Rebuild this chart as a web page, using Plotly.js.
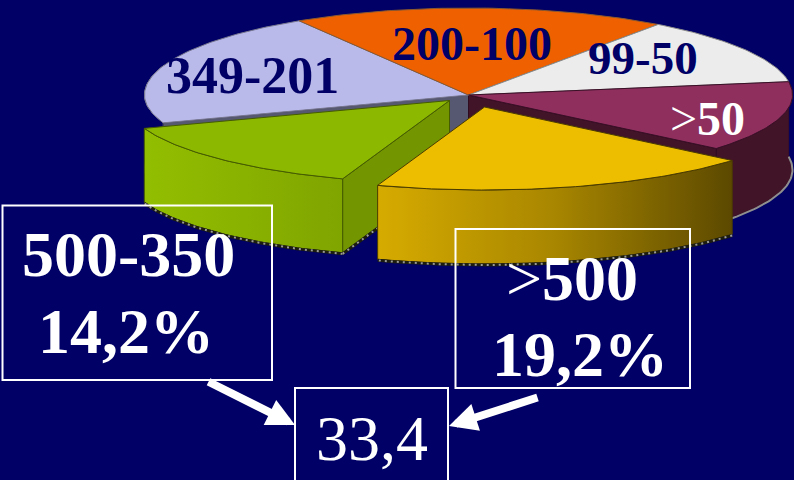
<!DOCTYPE html>
<html>
<head>
<meta charset="utf-8">
<script src="https://cdn.plot.ly/plotly-3.0.1.min.js"></script>
<style>html,body{margin:0;padding:0;background:#000066;overflow:hidden}#chart{width:794px;height:480px}</style>
</head>
<body>
<div id="chart"></div>
<script>
// Share of each class, in percent, clockwise from the back of the pie
const categories = ['200-100', '99-50', '>50', '>500', '500-350', '349-201'];
const shares = [18.7, 12.6, 13.6, 19.2, 14.2, 21.7];

// Tilted pie geometry, in plot units; the near half is a little flatter than the far half
const CX = 468.5, CY = 95, RX = 324, RY_BACK = 87, RY_FRONT = 83, DEPTH = 74, START_DEG = -31.5;
const pulledOut = {'>500': [16, 12], '500-350': [-19, 5.5]};

const NAVY = '#000066', WHITE = '#ffffff';
const topColors = {'200-100': '#ef6100', '99-50': '#ececec', '>50': '#8e2f5e', '>500': '#edbd00', '500-350': '#8cb900', '349-201': '#b9b9ea'};
const rimColors = {'>50': '#421428', '>500': '#6b5500', '500-350': '#5a7a00', '349-201': '#b4b4d6'};
const edgeColors = {'200-100': '#8a5a30', '99-50': '#8a8a8a', '>50': '#3a1026', '>500': '#4a3c00', '500-350': '#465c00', '349-201': '#77778f'};

// Angle span of each slice, derived from its share
const total = shares.reduce((a, b) => a + b, 0);
const spans = {};
let running = START_DEG;
categories.forEach((c, i) => {
  const sweep = shares[i] / total * 360;
  spans[c] = [running, running + sweep];
  running += sweep;
});

function rimPoint(deg, off, drop) {
  const a = deg * Math.PI / 180;
  const c = Math.cos(a);
  return [CX + off[0] + RX * Math.sin(a), CY + off[1] - (c > 0 ? RY_BACK : RY_FRONT) * c + drop];
}
function arc(from, to, off, drop) {
  const n = Math.max(2, Math.ceil(Math.abs(to - from)));
  const pts = [];
  for (let i = 0; i <= n; i++) pts.push(rimPoint(from + (to - from) * i / n, off, drop));
  return pts;
}
function poly(pts, fill, edge, extra) {
  return Object.assign({
    x: pts.map(p => p[0]), y: pts.map(p => p[1]),
    type: 'scatter', mode: 'lines', fill: 'toself', fillcolor: fill,
    line: {color: edge, width: 1}, hoverinfo: 'skip', showlegend: false
  }, extra || {});
}
function path(pts, color, width, dash) {
  return {
    x: pts.map(p => p[0]), y: pts.map(p => p[1]),
    type: 'scatter', mode: 'lines', line: {color: color, width: width, dash: dash || 'solid'},
    hoverinfo: 'skip', showlegend: false
  };
}
function topFace(c, off) {
  const apex = [CX + off[0], CY + off[1]];
  return poly([apex].concat(arc(spans[c][0], spans[c][1], off, 0), [apex]), topColors[c], edgeColors[c]);
}
function outerWall(c, off, from, to, extra) {
  const upper = arc(from, to, off, 0);
  const lower = arc(from, to, off, DEPTH).reverse();
  return poly(upper.concat(lower, [upper[0]]), rimColors[c], edgeColors[c], extra);
}
function radialWall(deg, off, fill, edge) {
  const apex = [CX + off[0], CY + off[1]];
  const tip = rimPoint(deg, off, 0);
  return poly([apex, tip, [tip[0], tip[1] + DEPTH], [apex[0], apex[1] + DEPTH], apex], fill, edge);
}
function shadowEdge(pts) {
  return [path(pts, '#1c1c10', 3), path(pts, '#9a9a9a', 2, '2px,4px')];
}

const none = [0, 0];
const traces = [];

// Slices that stay in the body of the pie
traces.push(outerWall('349-201', none, spans['349-201'][0], 290));
traces.push(outerWall('>50', none, spans['>50'][0], spans['>50'][1]));
traces.push(path(arc(spans['>50'][0], spans['>50'][1], none, DEPTH + 1), '#8f8f8f', 2));
traces.push(radialWall(spans['349-201'][0], none, '#555870', '#3a3a50'));
traces.push(radialWall(spans['>50'][1], none, rimColors['>50'], '#300c20'));
['349-201', '200-100', '99-50', '>50'].forEach(c => traces.push(topFace(c, none)));

// Pulled-out slice 500-350
const g = '500-350', gOff = pulledOut[g];
traces.push(radialWall(spans[g][0], gOff, '#739600', '#465c00'));
traces.push(outerWall(g, gOff, spans[g][0], spans[g][1], {
  fillgradient: {type: 'horizontal', colorscale: [[0, '#92be00'], [1, '#80a500']]}
}));
traces.push(...shadowEdge(arc(spans[g][0], spans[g][1], gOff, DEPTH + 1)));
// Lower edge of the cut face, running back towards the centre until the next slice hides it
const gTip = rimPoint(spans[g][0], gOff, DEPTH + 1);
const gAxis = [CX + gOff[0], CY + gOff[1] + DEPTH + 1];
traces.push(...shadowEdge([gTip, [gTip[0] + 0.4 * (gAxis[0] - gTip[0]), gTip[1] + 0.4 * (gAxis[1] - gTip[1])]]));
traces.push(topFace(g, gOff));

// Pulled-out slice >500
const y = '>500', yOff = pulledOut[y];
traces.push(outerWall(y, yOff, spans[y][0], spans[y][1], {
  fillgradient: {type: 'horizontal', colorscale: [[0, '#d6ab00'], [0.5, '#a88600'], [1, '#5c4900']]}
}));
traces.push(...shadowEdge(arc(spans[y][0], spans[y][1], yOff, DEPTH + 1)));
traces.push(topFace(y, yOff));

// Readouts, written from the shares
const shareOf = c => shares[categories.indexOf(c)];
const decimal = v => v.toFixed(1).replace('.', ',');
const combined = decimal(shareOf('>500') + shareOf('500-350'));
const serif = '"Liberation Serif", "Times New Roman", serif';
function label(text, px, py, size, color) {
  return {
    text: text, x: px, y: py, xref: 'x', yref: 'y', showarrow: false,
    xanchor: 'center', yanchor: 'middle',
    font: {family: serif, size: size, color: color}
  };
}
function arrow(fromX, fromY, toX, toY) {
  return {
    text: '', x: toX, y: toY, ax: fromX, ay: fromY, xref: 'x', yref: 'y', axref: 'x', ayref: 'y',
    showarrow: true, arrowhead: 2, arrowsize: 0.7, arrowwidth: 8, arrowcolor: WHITE, standoff: 0, startstandoff: 0
  };
}
const annotations = [
  label('<b>349-201</b>', 252, 75, 52, NAVY),
  label('<b>200-100</b>', 472, 43, 48, NAVY),
  label('<b>99-50</b>', 643, 58, 47, NAVY),
  label('&gt;<b>50</b>', 707, 118, 48, WHITE),
  label('<b>500-350</b>', 128, 254, 64, WHITE),
  label('<b>' + decimal(shareOf('500-350')) + '%</b>', 126, 331, 64, WHITE),
  label('&gt;<b>500</b>', 572, 278, 64, WHITE),
  label('<b>' + decimal(shareOf('>500')) + '%</b>', 580, 354, 64, WHITE),
  label(combined, 372, 438, 64, WHITE),
  arrow(207, 381, 295, 425),
  arrow(539, 397, 449, 426)
];
const box = (x0, y0, x1, y1) => ({type: 'rect', xref: 'x', yref: 'y', x0, y0, x1, y1, line: {color: WHITE, width: 2}, fillcolor: 'rgba(0,0,0,0)'});

Plotly.newPlot('chart', traces, {
  width: 794, height: 480,
  margin: {l: 0, r: 0, t: 0, b: 0},
  paper_bgcolor: NAVY, plot_bgcolor: NAVY,
  showlegend: false,
  xaxis: {range: [0, 794], visible: false, fixedrange: true},
  yaxis: {range: [480, 0], visible: false, fixedrange: true},
  shapes: [box(2.5, 205.5, 272, 380), box(455.5, 229, 690, 388), box(295, 388, 448, 500)],
  annotations: annotations
}, {displayModeBar: false, staticPlot: true});
</script>
</body>
</html>
